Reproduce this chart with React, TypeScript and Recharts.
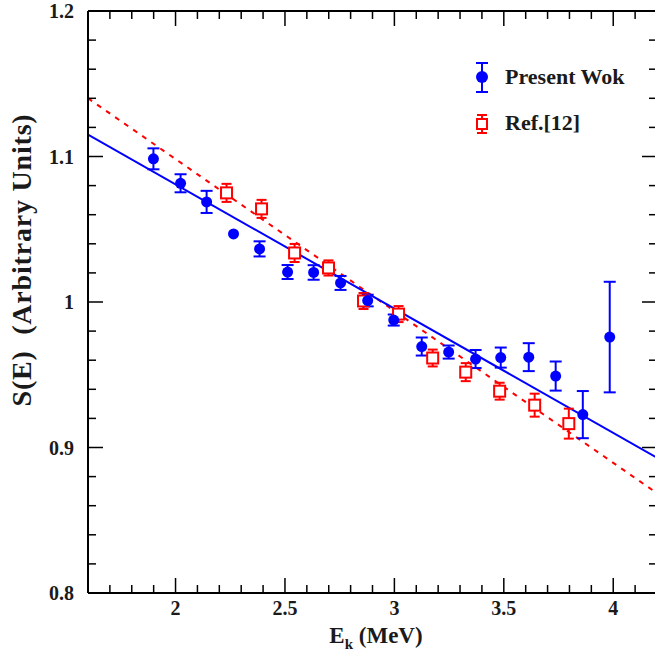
import React from "react";
import { ComposedChart, Scatter, Line, XAxis, YAxis, ErrorBar, Legend } from "recharts";

// Present work
const presentX = [1.899, 2.023, 2.142, 2.265, 2.384, 2.512, 2.631, 2.754, 2.878, 2.997, 3.125, 3.248, 3.371, 3.486, 3.614, 3.737, 3.861, 3.984];
const presentY = [1.0984, 1.0816, 1.0688, 1.0468, 1.0365, 1.0206, 1.0203, 1.0131, 1.001, 0.9876, 0.9694, 0.9656, 0.9608, 0.9618, 0.9621, 0.9491, 0.9226, 0.9759];
const presentErr = [0.0072, 0.0062, 0.0076, 0, 0.0052, 0.0048, 0.005, 0.0048, 0.004, 0.0038, 0.0062, 0.0045, 0.0062, 0.0069, 0.0096, 0.01, 0.0162, 0.038];

// Ref.[12]
const refX = [2.233, 2.393, 2.544, 2.699, 2.859, 3.019, 3.175, 3.326, 3.481, 3.641, 3.797];
const refY = [1.075, 1.064, 1.0337, 1.0234, 1.0007, 0.9917, 0.9615, 0.9518, 0.9387, 0.9291, 0.9164];
const refErr = [0.0062, 0.0062, 0.0062, 0.0052, 0.0055, 0.0055, 0.0058, 0.0062, 0.0058, 0.0079, 0.0103];

// fit lines (endpoints at the frame edges)
const fitX = [1.6, 4.2];
const presentFitY = [1.115, 0.893];
const refFitY = [1.14, 0.8686];

const xTicks = [1.7, 1.8, 1.9, 2, 2.1, 2.2, 2.3, 2.4, 2.5, 2.6, 2.7, 2.8, 2.9, 3, 3.1, 3.2, 3.3, 3.4, 3.5, 3.6, 3.7, 3.8, 3.9, 4, 4.1];
const yTicks = [0.8, 0.82, 0.84, 0.86, 0.88, 0.9, 0.92, 0.94, 0.96, 0.98, 1, 1.02, 1.04, 1.06, 1.08, 1.1, 1.12, 1.14, 1.16, 1.18, 1.2];

const present = presentX.map((x, i) => ({ x, y: presentY[i], err: presentErr[i] }));
const ref = refX.map((x, i) => ({ x, y: refY[i], err: refErr[i] }));
const presentFit = fitX.map((x, i) => ({ x, y: presentFitY[i] }));
const refFit = fitX.map((x, i) => ({ x, y: refFitY[i] }));

const BLUE = "#0000ff";
const RED = "#ff0000";
const FONT = "'Liberation Serif', 'Times New Roman', serif";

const isMajorX = (v: number) => Math.abs(v * 2 - Math.round(v * 2)) < 1e-6;
const isMajorY = (v: number) => Math.abs(v * 10 - Math.round(v * 10)) < 1e-6;
const fmt = (v: number) => String(Math.round(v * 10) / 10);

const MAJOR = 15;
const MINOR = 8;

const BottomTick = ({ x, y, payload }: any) => {
  const major = isMajorX(payload.value);
  return (
    <g>
      <line x1={x} x2={x} y1={y} y2={y - (major ? MAJOR : MINOR)} stroke="#000" strokeWidth={1.5} />
      {major && (
        <text x={x} y={y + 22} textAnchor="middle" fontFamily={FONT} fontWeight="bold" fontSize={20} fill="#1a1a1a">
          {fmt(payload.value)}
        </text>
      )}
    </g>
  );
};

const TopTick = ({ x, y, payload }: any) => {
  const major = isMajorX(payload.value);
  return <line x1={x} x2={x} y1={y} y2={y + (major ? MAJOR : MINOR)} stroke="#000" strokeWidth={1.5} />;
};

const LeftTick = ({ x, y, payload }: any) => {
  const major = isMajorY(payload.value);
  return (
    <g>
      <line x1={x} x2={x + (major ? MAJOR : MINOR)} y1={y} y2={y} stroke="#000" strokeWidth={1.5} />
      {major && (
        <text x={x - 14} y={y + 7} textAnchor="end" fontFamily={FONT} fontWeight="bold" fontSize={20} fill="#1a1a1a">
          {fmt(payload.value)}
        </text>
      )}
    </g>
  );
};

const RightTick = ({ x, y, payload }: any) => {
  const major = isMajorY(payload.value);
  return <line x1={x} x2={x - (major ? MAJOR : MINOR)} y1={y} y2={y} stroke="#000" strokeWidth={1.5} />;
};

const Dot = ({ cx, cy }: any) => <circle cx={cx} cy={cy} r={5.5} fill={BLUE} />;
const Square = ({ cx, cy }: any) => (
  <rect x={cx - 5.5} y={cy - 5.5} width={11} height={11} fill="#fff" stroke={RED} strokeWidth={2} />
);

const legendText: React.CSSProperties = {
  position: "absolute",
  left: 45,
  fontFamily: FONT,
  fontWeight: "bold",
  fontSize: 22,
  color: "#1a1a1a",
  lineHeight: "22px",
  whiteSpace: "nowrap",
};

const renderLegend = () => (
  <div style={{ position: "relative", width: 200, height: 90 }}>
    <svg width={40} height={90} style={{ position: "absolute", left: 0, top: 0 }}>
      <line x1={22} x2={22} y1={8} y2={37} stroke={BLUE} strokeWidth={2} />
      <line x1={16} x2={28} y1={8} y2={8} stroke={BLUE} strokeWidth={2} />
      <line x1={16} x2={28} y1={37} y2={37} stroke={BLUE} strokeWidth={2} />
      <circle cx={22} cy={22} r={6} fill={BLUE} />
      <line x1={22} x2={22} y1={60} y2={78} stroke={RED} strokeWidth={2} />
      <line x1={17} x2={27} y1={60} y2={60} stroke={RED} strokeWidth={2} />
      <line x1={17} x2={27} y1={78} y2={78} stroke={RED} strokeWidth={2} />
      <rect x={17} y={64} width={10} height={10} fill="#fff" stroke={RED} strokeWidth={2} />
    </svg>
    <div style={{ ...legendText, top: 11 }}>Present Wok</div>
    <div style={{ ...legendText, top: 57 }}>Ref.[12]</div>
  </div>
);

const axisLine = { stroke: "#000", strokeWidth: 2 };

export default function App() {
  return (
    <div style={{ position: "fixed", left: 0, top: 0, width: 655, height: 655, overflow: "hidden", background: "#fff" }}>
      <ComposedChart width={680} height={655} margin={{ top: 1, right: 13, bottom: 32, left: 48 }}>
        <XAxis
          type="number"
          dataKey="x"
          domain={[1.6, 4.2]}
          ticks={xTicks}
          interval={0}
          allowDataOverflow
          height={30}
          tickSize={0}
          tickMargin={0}
          tickLine={false}
          tick={BottomTick}
          axisLine={axisLine}
        />
        <XAxis
          xAxisId="top"
          orientation="top"
          type="number"
          dataKey="x"
          domain={[1.6, 4.2]}
          ticks={xTicks}
          interval={0}
          allowDataOverflow
          height={10}
          tickSize={0}
          tickMargin={0}
          tickLine={false}
          tick={TopTick}
          axisLine={axisLine}
        />
        <YAxis
          type="number"
          dataKey="y"
          domain={[0.8, 1.2]}
          ticks={yTicks}
          interval={0}
          allowDataOverflow
          width={40}
          tickSize={0}
          tickMargin={0}
          tickLine={false}
          tick={LeftTick}
          axisLine={axisLine}
        />
        <YAxis
          yAxisId="right"
          orientation="right"
          type="number"
          dataKey="y"
          domain={[0.8, 1.2]}
          ticks={yTicks}
          interval={0}
          allowDataOverflow
          width={10}
          tickSize={0}
          tickMargin={0}
          tickLine={false}
          tick={RightTick}
          axisLine={axisLine}
        />
        <Line data={refFit} dataKey="y" type="linear" stroke={RED} strokeWidth={2} strokeDasharray="5 6" dot={false} isAnimationActive={false} legendType="none" />
        <Line data={presentFit} dataKey="y" type="linear" stroke={BLUE} strokeWidth={2} dot={false} isAnimationActive={false} legendType="none" />
        <Scatter data={ref} dataKey="y" shape={Square} isAnimationActive={false}>
          <ErrorBar dataKey="err" direction="y" width={5} stroke={RED} strokeWidth={2} isAnimationActive={false} />
        </Scatter>
        <Scatter data={present} dataKey="y" shape={Dot} isAnimationActive={false}>
          <ErrorBar dataKey="err" direction="y" width={6} stroke={BLUE} strokeWidth={2} isAnimationActive={false} />
        </Scatter>
        <Legend
          content={renderLegend}
          layout="vertical"
          align="center"
          verticalAlign="middle"
          wrapperStyle={{ left: 460, top: 55, width: 200, height: 90 }}
        />
      </ComposedChart>
      <div
        style={{
          position: "absolute",
          left: 376 - 100,
          top: 624,
          width: 200,
          textAlign: "center",
          fontFamily: FONT,
          fontWeight: "bold",
          fontSize: 23,
          color: "#1a1a1a",
          lineHeight: "23px",
          whiteSpace: "nowrap",
        }}
      >
        E<sub style={{ fontSize: 15, verticalAlign: "-6px", lineHeight: 0 }}>k</sub> (MeV)
      </div>
      <div
        style={{
          position: "absolute",
          left: 22 - 200,
          top: 260 - 14,
          width: 400,
          height: 28,
          textAlign: "center",
          transform: "rotate(-90deg)",
          fontFamily: FONT,
          fontWeight: "bold",
          fontSize: 28,
          letterSpacing: "0.8px",
          color: "#1a1a1a",
          lineHeight: "28px",
          whiteSpace: "pre",
        }}
      >
        {"S(E)  (Arbitrary Units)"}
      </div>
    </div>
  );
}
